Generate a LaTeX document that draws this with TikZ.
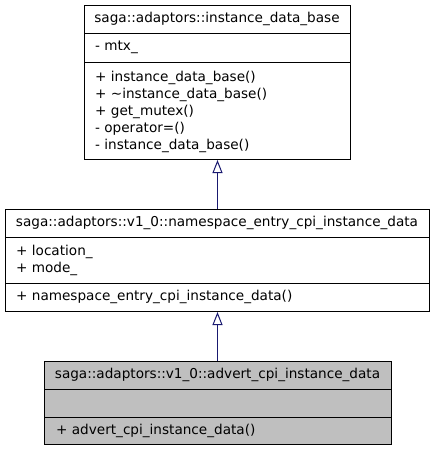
\documentclass[tikz,border=0pt]{standalone}
\usepackage{fontspec}
\setmainfont{DejaVu Sans}
\usetikzlibrary{arrows.meta, positioning, calc}
\definecolor{edgeblue}{HTML}{191970}
\definecolor{classgray}{HTML}{BFBFBF}
\tikzstyle{arrow} = [draw=edgeblue, line width=1pt, -{Triangle[open, length=13pt, width=10pt, fill=white]}]
\tikzstyle{classbox} = [rectangle, draw=black, line width=1pt, fill=white, anchor=north west, inner sep=0pt]
\tikzstyle{member} = [anchor=west, inner sep=0pt, align=left, font=\fontsize{13.6}{17.1}\selectfont]
\tikzstyle{title} = [anchor=center, inner sep=0pt, font=\fontsize{13.6}{17.1}\selectfont]

\begin{document}
\begin{tikzpicture}[x=1pt, y=-1pt]
    \useasboundingbox (0,0) rectangle (435,451);

    % base class
    \node[classbox, minimum width=266pt, minimum height=154pt] (base) at (84,5) {};
    \draw[line width=1pt] ([yshift=-28pt]base.north west) -- ([yshift=-28pt]base.north east);
    \draw[line width=1pt] ([yshift=-57pt]base.north west) -- ([yshift=-57pt]base.north east);
    \node[title] (basetitle) at (217,19) {saga::adaptors::instance\_data\_base};
    \node[member] (baseattr) at (95,47.5) {- mtx\_};
    \node[member] (baseops) at (95,112) {+ instance\_data\_base()\\+ \textasciitilde instance\_data\_base()\\+ get\_mutex()\\- operator=()\\- instance\_data\_base()};

    % namespace entry
    \node[classbox, minimum width=424pt, minimum height=102pt] (nsdata) at (5,209) {};
    \draw[line width=1pt] ([yshift=-28pt]nsdata.north west) -- ([yshift=-28pt]nsdata.north east);
    \draw[line width=1pt] ([yshift=-74pt]nsdata.north west) -- ([yshift=-74pt]nsdata.north east);
    \node[title] (nstitle) at (217,223) {saga::adaptors::v1\_0::namespace\_entry\_cpi\_instance\_data};
    \node[member] (nsattr) at (16,260) {+ location\_\\+ mode\_};
    \node[member] (nsops) at (16,297) {+ namespace\_entry\_cpi\_instance\_data()};

    % advert (this class)
    \node[classbox, fill=classgray, minimum width=347pt, minimum height=83pt] (advert) at (44,361) {};
    \draw[line width=1pt] ([yshift=-28pt]advert.north west) -- ([yshift=-28pt]advert.north east);
    \draw[line width=1pt] ([yshift=-56pt]advert.north west) -- ([yshift=-56pt]advert.north east);
    \node[title] (adtitle) at (217.5,375) {saga::adaptors::v1\_0::advert\_cpi\_instance\_data};
    \node[member] (adops) at (56,430.5) {+ advert\_cpi\_instance\_data()};

    \draw[arrow] (nsdata.north) -- (base.south);
    \draw[arrow] (advert.north -| nsdata.south) -- (nsdata.south);
\end{tikzpicture}
\end{document}
